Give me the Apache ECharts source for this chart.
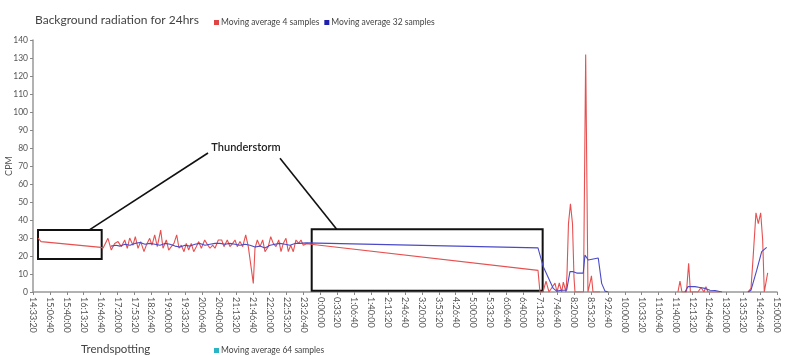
<!DOCTYPE html>
<html><head><meta charset="utf-8">
<script src="https://cdn.jsdelivr.net/npm/echarts@6/dist/echarts.min.js"></script>
<style>html,body{margin:0;padding:0;background:#fff}#c{width:800px;height:355px}</style>
</head><body><div id="c"></div>
<script>
// time axis: minutes after 14:33:20 ; values: CPM
const startClock = 14*3600 + 33*60 + 20;
const tickSeconds = 2000;
const axisMaxSeconds = 88000;
const yMax = 140, yInterval = 10;

const movingAvg4 = [
 [9.9,30],[15.8,28],[19.7,27.5],[134,24.8],[138,24.3],[147.8,29.8],[154.3,23.3],[161,27],[167.6,28],[174,25.2],
 [180.8,28.9],[185.9,24.3],[190.6,30],[197.1,26],[201.7,30.7],[207,24.3],[212.3,28],[218.8,22.4],[223.3,26],[230,29.8],
 [234.6,26],[239.9,31.7],[245,25.2],[251.7,34.4],[256.3,24.3],[262.8,28.9],[267.5,23.3],[272.6,25.2],[277.9,27],[283.3,31.7],
 [287.8,24.3],[292.3,26],[297.7,22.4],[302.2,27],[306.9,23.3],[312,27],[316.8,22.4],[321.9,25.2],[326.6,28],[331.8,24.3],
 [338.5,28.9],[342.4,27],[348.9,24.3],[354.2,26],[358.8,24.3],[365.3,28.9],[372,28.9],[376.5,25.2],[383,28.9],[388.3,25.2],
 [393.7,27],[398.2,28.9],[402.7,25.2],[408,28],[413.4,25.2],[419.3,31.7],[424.4,25.2],[427.8,26],[434.3,4.8],[437.6,24.3],
 [442.2,28.9],[447.5,25.2],[452.8,28.9],[457.3,22.4],[463.8,25.2],[468.6,30.7],[473.7,27],[479,25.2],[484.4,28.9],[488.9,22.4],
 [493.4,27],[498.7,29.8],[503.3,22.4],[508,26],[513.1,22.4],[518.4,28.9],[523.8,27],[528.3,28.9],[532.8,26],[539.5,26.8],
 [995.5,12],[999.4,0],[1005.4,0],[1011.3,6],[1017.2,0],[1029,5],[1033,0],[1037.5,5],[1042.2,0],[1045.4,5.5],[1050.7,0],
 [1052.7,10],[1055.6,38],[1059.5,49],[1063.5,38],[1066.5,8],[1068.4,0],[1085.2,0],[1089.5,132],[1094,0],[1098,5],[1100.9,9],
 [1103.9,0],[1117.7,0],[1190,null],
 [1271.4,0],[1275.4,6],[1279.3,0],[1288.2,0],[1292.5,16],[1296,0],[1310.9,0],[1316.8,2.5],[1322.7,0],[1326.6,3],[1330.6,0],[1354.2,0],
 [1380,null],
 [1409.4,0],[1415.4,2],[1419.3,18],[1425.2,44],[1429.8,38],[1434.5,44],[1438.4,29],[1441.6,0],[1448.3,10.6]
];

const movingAvg32 = [
 [153.8,25.5],[163.6,26],[171.5,25.5],[181.4,26.5],[191.2,26],[201.1,27],[211,27.5],[220.8,26.5],[230.6,27],[240.5,26.5],
 [250.4,26],[260.2,27],[270.1,26.5],[280,25.5],[289.8,25],[299.6,26],[309.5,25.5],[319.3,26.5],[329.2,27],[339,26],
 [348.9,26.5],[358.8,27],[368.6,27],[378.5,26.5],[388.3,27],[398.2,26.5],[408,26],[418,26.5],[427.8,26],[437.6,25],
 [447.5,25.5],[457.3,24.5],[467.2,26],[477,26.5],[486.9,27],[496.8,26.5],[506.6,26],[516.5,27],[526.3,27],[538.2,27.3],
 [995.5,24.5],[1006,14],[1025.6,2],[1032.4,0.5],[1042.2,1],[1052,1],[1058.5,11.3],[1065,11.3],[1071.8,10.5],[1084.7,10.5],
 [1088.1,20.5],[1094.6,17.8],[1098,18.9],[1114.3,18.9],[1121,4.8],[1127.6,0.5],[1134,0],[1200,null],
 [1285.3,0],[1291.2,3],[1305,3],[1314.8,2.5],[1324.7,2],[1334.6,1],[1344.4,0.8],[1358.2,0],[1380,null],
 [1409.4,0],[1415.4,1],[1426.6,12],[1436.5,22.4],[1446.3,24.8]
];

const movingAvg64 = [];

// annotation (minutes, CPM)
const thunderBoxes = [[[9.9,34.4],[135.4,18.3]], [[549.4,34.8],[1004.7,0.7]]];
const thunderLabelAt = [419.9, 80.5];
const thunderLinks = [[[110.4,34.4],[345,77.2]], [[486.9,74.3],[598.7,34.8]]];

const toSec = p => [p[0]*60, p[1]];
function clock(s){
  let t = (startClock + s) % 86400;
  const h = Math.floor(t/3600), m = Math.floor((t%3600)/60), ss = Math.round(t%60);
  return h + ':' + String(m).padStart(2,'0') + ':' + String(ss).padStart(2,'0');
}

const chart = echarts.init(document.getElementById('c'), null, {renderer:'canvas'});
const font = 'Lato, "Open Sans", sans-serif';
chart.setOption({
  animation:false,
  backgroundColor:'#fff',
  textStyle:{fontFamily:font},
  title:[
    {text:'Background radiation for 24hrs', left:30, top:9,
     textStyle:{fontSize:12, fontWeight:'normal', color:'#444', fontFamily:font}},
    {text:'Trendspotting', left:76, top:338,
     textStyle:{fontSize:11.5, fontWeight:'normal', color:'#444', fontFamily:font}}
  ],
  legend:[
    {data:['Moving average 4 samples','Moving average 32 samples'], left:209, top:13,
     icon:'rect', itemWidth:5, itemHeight:5, itemGap:5,
     textStyle:{fontSize:8.5, color:'#444', padding:[0,0,0,-3]}},
    {data:['Moving average 64 samples'], left:209, top:341,
     icon:'rect', itemWidth:5, itemHeight:5,
     textStyle:{fontSize:8.5, color:'#444', padding:[0,0,0,-3]}}
  ],
  grid:{left:33, right:23, top:40, bottom:63, containLabel:false, outerBoundsMode:'none'},
  xAxis:{
    type:'value', min:0, max:axisMaxSeconds, interval:tickSeconds,
    axisLine:{lineStyle:{color:'#999', width:1.5}},
    axisTick:{show:true, length:3, lineStyle:{color:'#888'}},
    splitLine:{show:false},
    axisLabel:{rotate:-90, fontSize:9, color:'#555', margin:5, formatter:v=>clock(v), showMaxLabel:true, showMinLabel:true}
  },
  yAxis:{
    type:'value', min:0, max:yMax, interval:yInterval,
    name:'CPM', nameLocation:'middle', nameGap:19, nameRotate:90, nameMoveOverlap:false,
    nameTextStyle:{fontSize:9, color:'#555'},
    axisLine:{show:true, lineStyle:{color:'#999', width:1.5}},
    axisTick:{show:true, length:3, lineStyle:{color:'#888'}},
    splitLine:{show:false},
    axisLabel:{fontSize:8.5, color:'#555', margin:5}
  },
  series:[
    {name:'Moving average 4 samples', type:'line', data:movingAvg4.map(toSec),
     showSymbol:false, connectNulls:false, color:'#e04444', z:2,
     lineStyle:{width:1.1, color:'#e65050'},
     markArea:{silent:true, itemStyle:{color:'rgba(0,0,0,0)', borderColor:'#111', borderWidth:2},
       data:thunderBoxes.map(b=>[{coord:toSec(b[0])},{coord:toSec(b[1])}])},
     markLine:{silent:true, symbol:['none','none'], label:{show:false},
       lineStyle:{color:'#111', width:1.6, type:'solid'},
       data:thunderLinks.map(l=>[{coord:toSec(l[0])},{coord:toSec(l[1])}])},
     markPoint:{silent:true, symbol:'circle', symbolSize:0,
       label:{show:true, formatter:'Thunderstorm', fontSize:11, fontWeight:600, color:'#222', position:'inside'},
       data:[{coord:toSec(thunderLabelAt), value:0}]}
    },
    {name:'Moving average 32 samples', type:'line', data:movingAvg32.map(toSec),
     showSymbol:false, connectNulls:false, color:'#2020b0', z:3,
     lineStyle:{width:1.1, color:'#4a4ac8'}},
    {name:'Moving average 64 samples', type:'line', data:movingAvg64,
     showSymbol:false, color:'#2ab5c5'}
  ]
});
</script></body></html>
